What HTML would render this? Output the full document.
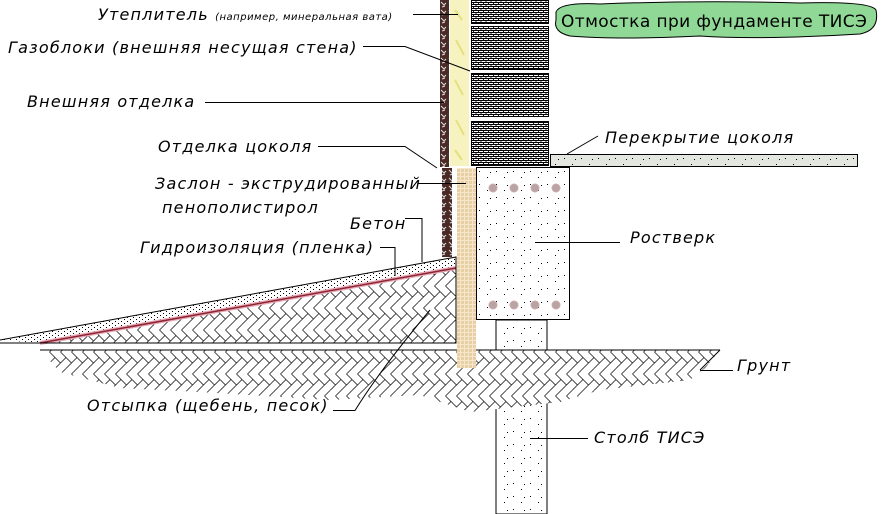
<!DOCTYPE html>
<html><head><meta charset="utf-8"><style>
html,body{margin:0;padding:0;background:#fff}
svg{display:block}
text{font-family:"DejaVu Sans","Liberation Sans",sans-serif;font-style:oblique;font-size:16px;letter-spacing:1.2px;fill:#000}
</style></head><body>
<svg width="881" height="514" viewBox="0 0 881 514" xmlns="http://www.w3.org/2000/svg">
<defs>
<pattern id="herr" width="22" height="22" patternUnits="userSpaceOnUse">
<path d="M0 5.5 L5.5 11 L11 5.5 L16.5 11 L22 5.5 M0 16.5 L5.5 11 M11 16.5 L16.5 11 M5.5 0 L11 5.5 M16.5 0 L22 5.5 M5.5 22 L11 16.5 M16.5 22 L22 16.5" stroke="#000" stroke-width="0.7" fill="none"/>
</pattern>
<pattern id="brick" width="5" height="4" patternUnits="userSpaceOnUse">
<rect width="5" height="4" fill="#fff"/>
<path d="M0 0.5 H5 M0 2.5 H5 M1 0 V2.5 M3.5 2.5 V4" stroke="#000" stroke-width="0.9"/>
</pattern>
<pattern id="dots" width="17" height="13" patternUnits="userSpaceOnUse">
<rect x="3" y="2" width="1" height="1" fill="#000"/><rect x="11" y="8" width="1" height="1" fill="#000"/><rect x="14" y="3" width="1" height="1" fill="#000"/>
</pattern>
<pattern id="fdots" width="6" height="4" patternUnits="userSpaceOnUse">
<rect x="1" y="1" width="1" height="1" fill="#000"/><rect x="4" y="3" width="1" height="1" fill="#000"/>
</pattern>
<pattern id="brown" width="8" height="8" patternUnits="userSpaceOnUse">
<rect width="8" height="8" fill="#4a2a24"/>
<path d="M1 2 L4 5 L6 3 M2 7 L5 6" stroke="#ddd" stroke-width="1" fill="none"/>
</pattern>
<pattern id="tan" width="4" height="4" patternUnits="userSpaceOnUse">
<rect width="4" height="4" fill="#e8cfa6"/><path d="M0 0.5H4 M0.5 0V4" stroke="#f5e6cc" stroke-width="1"/>
</pattern>
</defs>

<rect x="496" y="320" width="51" height="194" fill="#fff" stroke="#000"/>
<rect x="497" y="321" width="49" height="193" fill="url(#dots)"/>
<path d="M40 350 L720 350 L705 368 L690 380 L600 390 L560 402 L470 412 L420 395 L330 400 L200 392 L120 388 L60 372 Z" fill="#fff"/>
<path d="M40 350 L720 350 L705 368 L690 380 L600 390 L560 402 L470 412 L420 395 L330 400 L200 392 L120 388 L60 372 Z" fill="url(#herr)"/>
<line x1="40" y1="350" x2="720" y2="350" stroke="#000" stroke-width="1"/>
<path d="M40 343 L456 268 L456 343 Z" fill="url(#herr)"/>
<path d="M0 340 L456 257 L456 268 L40 343 Z" fill="#fff"/>
<path d="M0 340 L456 257 L456 268 L40 343 Z" fill="url(#fdots)"/>
<path d="M40 343 L456 268" stroke="#e8a8b8" stroke-width="4"/>
<path d="M40 343 L456 268" stroke="#8b2530" stroke-width="1.5"/>
<path d="M0 340 L456 257 L456 343 L0 343" fill="none" stroke="#000" stroke-width="1"/>

<rect x="476.5" y="167.5" width="93" height="152" fill="#fff" stroke="#000"/>
<rect x="477" y="168" width="92" height="151" fill="url(#dots)"/>
<g fill="#b8a4a4" stroke="#caa" stroke-width="1">
<circle cx="493" cy="188" r="4"/><circle cx="514" cy="188" r="4"/><circle cx="535" cy="188" r="4"/><circle cx="556" cy="188" r="4"/>
<circle cx="493" cy="305" r="4"/><circle cx="514" cy="305" r="4"/><circle cx="535" cy="305" r="4"/><circle cx="556" cy="305" r="4"/>
</g>
<rect x="457" y="168" width="19" height="200" fill="url(#tan)"/>
<rect x="442" y="168" width="10" height="89" fill="url(#brown)"/>
<rect x="440" y="0" width="9" height="167" fill="url(#brown)"/>
<rect x="450" y="0" width="19" height="166" fill="#f6f3c0"/>
<path d="M455 10 L462 20 M456 40 L464 55 M455 80 L463 95 M456 120 L464 135 M455 150 L462 160" stroke="#e6e080" stroke-width="2"/>
<rect x="471.5" y="0" width="77" height="23.5" fill="url(#brick)" stroke="#000"/>
<rect x="471.5" y="26.5" width="77" height="43" fill="url(#brick)" stroke="#000"/>
<rect x="471.5" y="73.5" width="77" height="43" fill="url(#brick)" stroke="#000"/>
<rect x="471.5" y="121.5" width="77" height="44" fill="url(#brick)" stroke="#000"/>
<rect x="550.5" y="154.5" width="307" height="12" fill="#e4e6e0" stroke="#000"/>
<rect x="551" y="155" width="306" height="11" fill="url(#dots)"/>

<path d="M556 12 Q560 2 600 4 Q700 0 800 3 Q870 1 876 10 Q880 30 860 34 Q760 40 700 36 Q620 40 570 36 Q553 32 556 20 Z" fill="#8fd896" stroke="#000" stroke-width="1"/>
<text x="561" y="27" style="font-style:normal;font-size:17px;letter-spacing:0.4px">Отмостка при фундаменте ТИСЭ</text>

<g stroke="#000" stroke-width="1" fill="none">
<path d="M413 14.5 H458"/>
<path d="M363 46.5 H405 L470 71"/>
<path d="M205 102.5 H444"/>
<path d="M318 146.5 H405 L437 168"/>
<path d="M418 183.5 H466"/>
<path d="M405 218.5 H422 V262"/>
<path d="M380 247.5 H395 V276"/>
<path d="M567 154 L598 136"/>
<path d="M535 242.5 H620"/>
<path d="M700 370.5 H733 M700 370 L720 350"/>
<path d="M530 438.5 H588"/>
<path d="M333 410.5 H355 Q380 370 430 310"/>
</g>

<text x="98" y="20">Утеплитель <tspan style="font-size:10px;letter-spacing:0.5px">(например, минеральная вата)</tspan></text>
<text x="8" y="53">Газоблоки (внешняя несущая стена)</text>
<text x="27" y="107">Внешняя отделка</text>
<text x="158" y="152">Отделка цоколя</text>
<text x="155" y="189">Заслон - экструдированный</text>
<text x="162" y="213">пенополистирол</text>
<text x="350" y="229">Бетон</text>
<text x="140" y="253">Гидроизоляция (пленка)</text>
<text x="605" y="143">Перекрытие цоколя</text>
<text x="630" y="243">Ростверк</text>
<text x="737" y="371">Грунт</text>
<text x="594" y="443">Столб ТИСЭ</text>
<text x="87" y="411">Отсыпка (щебень, песок)</text>
</svg>
</body></html>
